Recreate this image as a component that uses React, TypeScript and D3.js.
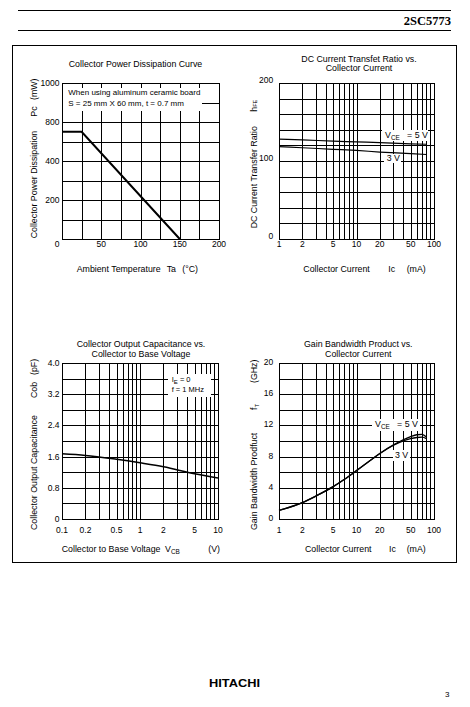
import React from 'react';
import * as d3 from 'd3';

// ---------------- data ----------------
// Collector Power Dissipation Curve
const pcTa = [0, 25, 150];
const pcPower = [700, 700, 0];
const pcXTicks = [0, 50, 100, 150, 200];
const pcXGrid = [25, 50, 75, 100, 125, 150, 175];
const pcYTicks = [0, 200, 400, 800, 1000]; // as printed on the axis
const pcYGrid = [100, 200, 300, 400, 600, 800, 900];

// DC Current Transfer Ratio vs. Collector Current
const hfeIc = [1, 2, 5, 10, 20, 50, 80];
const hfe5V = [128, 127, 125.5, 124.5, 123.5, 122, 121.5];
const hfe3V = [118.5, 117, 115, 113.5, 111.5, 109.5, 108.3];
const hfeYTicks = [0, 100, 200];
const hfeYGrid = [20, 40, 60, 80, 100, 120, 140, 160, 180];
const icTicks = [1, 2, 5, 10, 20, 50, 100];

// Collector Output Capacitance vs. Collector to Base Voltage
const cobVcb = [0.1, 0.2, 0.5, 1, 2, 5, 10];
const cobPf = [1.67, 1.63, 1.53, 1.44, 1.34, 1.16, 1.05];
const vcbTicks = [0.1, 0.2, 0.5, 1, 2, 5, 10];
const cobYTicks = [0, 0.8, 1.6, 2.4, 3.2, 4.0];
const cobYGrid = [0.4, 0.8, 1.2, 1.6, 2.0, 2.4, 2.8, 3.2, 3.6];

// Gain Bandwidth Product vs. Collector Current
const ftIc = [1, 2, 3, 5, 7, 10, 15, 20, 30, 40, 50, 60, 70, 80];
const ft5V = [1.1, 2.1, 2.95, 4.15, 5.1, 6.2, 7.5, 8.4, 9.5, 10.15, 10.55, 10.8, 10.85, 10.5];
const ft3V = [1.1, 2.1, 2.95, 4.15, 5.1, 6.2, 7.5, 8.4, 9.45, 10.0, 10.3, 10.45, 10.5, 10.3];
const ftYTicks = [0, 4, 8, 12, 16, 20];
const ftYGrid = [2, 4, 6, 8, 10, 12, 14, 16, 18];

// ---------------- helpers ----------------
const FONT = "'Liberation Sans', Arial, Helvetica, sans-serif";
const crisp = (v: number) => Math.round(v) + 0.5;
const zip = (a: number[], b: number[]) => a.map((v, i) => [v, b[i]] as [number, number]);

function logGrid(lo: number, hi: number): number[] {
  const out: number[] = [];
  for (let d = lo; d < hi * 0.999; d *= 10)
    for (let m = 1; m <= 9; m++) out.push(+(d * m).toPrecision(3));
  out.push(hi);
  return out;
}

function GridFrame({ x, y, xGrid, yGrid, l, r, t, b }: any) {
  return (
    <g stroke="#000" strokeWidth={1} fill="none" shapeRendering="crispEdges">
      {xGrid.map((v: number, i: number) => (
        <line key={'x' + i} x1={crisp(x(v))} x2={crisp(x(v))} y1={t} y2={b} />
      ))}
      {yGrid.map((v: number, i: number) => (
        <line key={'y' + i} x1={l} x2={r} y1={crisp(y(v))} y2={crisp(y(v))} />
      ))}
    </g>
  );
}

function Frame({ l, r, t, b }: any) {
  return (
    <rect
      x={crisp(l)}
      y={crisp(t)}
      width={Math.round(r) - Math.round(l)}
      height={Math.round(b) - Math.round(t)}
      fill="none"
      stroke="#000"
      strokeWidth={1}
      shapeRendering="crispEdges"
    />
  );
}

// main text + subscript + optional trailing text
function SubParts({ main, sub, after, size = 6.4, shift = 2 }: any) {
  return (
    <>
      <tspan>{main}</tspan>
      <tspan fontSize={size} dy={shift}>{sub}</tspan>
      {after ? <tspan dy={-shift}>{after}</tspan> : null}
    </>
  );
}

function VText({ x, y, children, size = 8.8 }: any) {
  return (
    <text transform={`translate(${x},${y}) rotate(-90)`} fontSize={size} fontFamily={FONT} fill="#000">
      {children}
    </text>
  );
}

function T({ x, y, children, size = 8.8, anchor = 'start', ...rest }: any) {
  return (
    <text x={x} y={y} fontSize={size} fontFamily={FONT} textAnchor={anchor} fill="#000" style={{ whiteSpace: 'pre' }} {...rest}>
      {children}
    </text>
  );
}

const fmt = (v: number) => String(v);
const fmt1 = (v: number) => (v === 0 ? '0' : v.toFixed(1));

export default function App() {
  // ---- chart 1 ----
  const c1 = { l: 62, r: 219, t: 83, b: 239 };
  const x1 = d3.scaleLinear().domain([0, 200]).range([c1.l, c1.r]);
  const y1 = d3
    .scaleLinear()
    .domain(pcYTicks)
    .range(pcYTicks.map((_, i) => c1.b - (i * (c1.b - c1.t)) / (pcYTicks.length - 1)));
  const line1 = d3.line<[number, number]>().x((d) => x1(d[0])).y((d) => y1(d[1]));

  // ---- chart 2 ----
  const c2 = { l: 279, r: 434, t: 83, b: 239 };
  const x2 = d3.scaleLog().domain([1, 100]).range([c2.l, c2.r]);
  const y2 = d3.scaleLinear().domain([0, 200]).range([c2.b, c2.t]);
  const line2 = d3.line<[number, number]>().x((d) => x2(d[0])).y((d) => y2(d[1])).curve(d3.curveMonotoneX);

  // ---- chart 3 ----
  const c3 = { l: 62, r: 218, t: 363, b: 519 };
  const x3 = d3.scaleLog().domain([0.1, 10]).range([c3.l, c3.r]);
  const y3 = d3.scaleLinear().domain([0, 4]).range([c3.b, c3.t]);
  const line3 = d3.line<[number, number]>().x((d) => x3(d[0])).y((d) => y3(d[1])).curve(d3.curveMonotoneX);

  // ---- chart 4 ----
  const c4 = { l: 279, r: 434, t: 363, b: 519 };
  const x4 = d3.scaleLog().domain([1, 100]).range([c4.l, c4.r]);
  const y4 = d3.scaleLinear().domain([0, 20]).range([c4.b, c4.t]);
  const line4 = d3.line<[number, number]>().x((d) => x4(d[0])).y((d) => y4(d[1])).curve(d3.curveMonotoneX);

  const TICK = 8.5;

  return (
    <svg
      width={470}
      height={707}
      style={{ position: 'absolute', left: 0, top: 0, background: '#fff' }}
      fontFamily={FONT}
    >
      <rect x={0} y={0} width={470} height={707} fill="#fff" />
      {/* header */}
      <g stroke="#000" strokeWidth={1} shapeRendering="crispEdges">
        <line x1={18} x2={451} y1={10.5} y2={10.5} />
        <line x1={18} x2={451} y1={30.5} y2={30.5} />
      </g>
      <text
        x={451}
        y={25}
        textAnchor="end"
        fontFamily="'Liberation Serif', 'Times New Roman', serif"
        fontWeight="bold"
        fontSize={12.5}
      >
        2SC5773
      </text>
      {/* page frame */}
      <rect x={12.5} y={45.5} width={444} height={517} fill="none" stroke="#000" strokeWidth={1} shapeRendering="crispEdges" />

      {/* ================= chart 1 ================= */}
      <T x={135.5} y={66.7} anchor="middle">Collector Power Dissipation Curve</T>
      <GridFrame x={x1} y={y1} xGrid={pcXGrid} yGrid={pcYGrid} {...c1} />
      <rect x={c1.l} y={88} width={140} height={23} fill="#fff" />
      <T x={68.3} y={95.3} size={8}>When using aluminum ceramic board</T>
      <T x={68.3} y={106.2} size={8}>S = 25 mm X 60 mm, t = 0.7 mm</T>
      <Frame {...c1} />
      <path d={line1(zip(pcTa, pcPower)) || ''} fill="none" stroke="#000" strokeWidth={2} />
      {pcYTicks.map((v, i) => (
        <T key={i} x={59.5} y={v === 0 ? 246.7 : y1(v)} dy={v === 0 ? 0 : '0.35em'} anchor="end" size={TICK}>
          {fmt(v)}
        </T>
      ))}
      {pcXTicks
        .filter((v) => v !== 0)
        .map((v, i) => (
          <T key={i} x={x1(v)} y={246.7} anchor="middle" size={TICK}>
            {fmt(v)}
          </T>
        ))}
      <T x={76.7} y={271.5}>Ambient Temperature</T>
      <T x={166.7} y={271.5}>Ta</T>
      <T x={182.3} y={271.5}>(°C)</T>
      <VText x={36.5} y={238.3}>Collector Power Dissipation</VText>
      <VText x={36.5} y={116.7}>Pc</VText>
      <VText x={36.5} y={100}>(mW)</VText>

      {/* ================= chart 2 ================= */}
      <T x={359} y={61.7} anchor="middle">DC Current Transfet Ratio vs.</T>
      <T x={359} y={70.7} anchor="middle">Collector Current</T>
      <GridFrame x={x2} y={y2} xGrid={logGrid(1, 100)} yGrid={hfeYGrid} {...c2} />
      <rect x={382} y={130} width={46} height={11} fill="#fff" />
      <rect x={384} y={154} width={17} height={9} fill="#fff" />
      <T x={385} y={137.7}>
        <SubParts main="V" sub="CE" after={'   = 5 V'} />
      </T>
      <T x={386.7} y={161.3}>3 V</T>
      <Frame {...c2} />
      <path d={line2(zip(hfeIc, hfe5V)) || ''} fill="none" stroke="#000" strokeWidth={1.2} />
      <path d={line2(zip(hfeIc, hfe3V)) || ''} fill="none" stroke="#000" strokeWidth={1.2} />
      {hfeYTicks.map((v, i) => (
        <T key={i} x={273.3} y={y2(v) - 2.5} dy="0.35em" anchor="end" size={TICK}>
          {fmt(v)}
        </T>
      ))}
      {icTicks.map((v, i) => (
        <T key={i} x={x2(v)} y={247.3} anchor="middle" size={TICK}>
          {fmt(v)}
        </T>
      ))}
      <T x={303.3} y={271.5}>Collector Current</T>
      <T x={388.3} y={271.5}>Ic</T>
      <T x={406.7} y={271.5}>(mA)</T>
      <VText x={256.5} y={228.3}>DC Current Transfer Ratio</VText>
      <VText x={256.5} y={111.7}>
        <SubParts main="h" sub="FE" size={5.5} shift={0} />
      </VText>

      {/* ================= chart 3 ================= */}
      <T x={141} y={347.3} anchor="middle">Collector Output Capacitance vs.</T>
      <T x={141} y={356.7} anchor="middle">Collector to Base Voltage</T>
      <GridFrame x={x3} y={y3} xGrid={logGrid(0.1, 10)} yGrid={cobYGrid} {...c3} />
      <rect x={168} y={374} width={43} height={23} fill="#fff" />
      <T x={171.7} y={382.3} size={7.5}>
        <SubParts main="I" sub="E" after=" = 0" size={6} />
      </T>
      <T x={171.7} y={392.3} size={7.5}>f = 1 MHz</T>
      <Frame {...c3} />
      <path d={line3(zip(cobVcb, cobPf)) || ''} fill="none" stroke="#000" strokeWidth={1.5} />
      {cobYTicks.map((v, i) => (
        <T key={i} x={59.5} y={y3(v)} dy="0.35em" anchor="end" size={TICK}>
          {fmt1(v)}
        </T>
      ))}
      {vcbTicks.map((v, i) => (
        <T key={i} x={x3(v)} y={533} anchor="middle" size={TICK}>
          {fmt(v)}
        </T>
      ))}
      <T x={61.7} y={551.5}>Collector to Base Voltage</T>
      <T x={165} y={551.5}>
        <SubParts main="V" sub="CB" />
      </T>
      <T x={208.3} y={551.5}>(V)</T>
      <VText x={37} y={530}>Collector Output Capacitance</VText>
      <VText x={37} y={398}>Cob</VText>
      <VText x={37} y={375}>(pF)</VText>

      {/* ================= chart 4 ================= */}
      <T x={358.3} y={347.3} anchor="middle">Gain Bandwidth Product vs.</T>
      <T x={358.3} y={356.7} anchor="middle">Collector Current</T>
      <GridFrame x={x4} y={y4} xGrid={logGrid(1, 100)} yGrid={ftYGrid} {...c4} />
      <rect x={372} y={419} width={48} height={12} fill="#fff" />
      <rect x={393} y={450} width={17} height={11} fill="#fff" />
      <T x={375} y={427.3}>
        <SubParts main="V" sub="CE" after={'   = 5 V'} />
      </T>
      <T x={395} y={458.3}>3 V</T>
      <Frame {...c4} />
      <path d={line4(zip(ftIc, ft5V)) || ''} fill="none" stroke="#000" strokeWidth={1.3} />
      <path d={line4(zip(ftIc, ft3V)) || ''} fill="none" stroke="#000" strokeWidth={1.3} />
      {ftYTicks.map((v, i) => (
        <T key={i} x={273.3} y={y4(v) - 1} dy="0.35em" anchor="end" size={TICK}>
          {fmt(v)}
        </T>
      ))}
      {icTicks.map((v, i) => (
        <T key={i} x={x4(v)} y={532.7} anchor="middle" size={TICK}>
          {fmt(v)}
        </T>
      ))}
      <T x={305} y={551.5}>Collector Current</T>
      <T x={389} y={551.5}>Ic</T>
      <T x={406.7} y={551.5}>(mA)</T>
      <VText x={256.5} y={530}>Gain Bandwidth Prodfuct</VText>
      <VText x={256.5} y={410}>
        <SubParts main="f" sub="T" size={6} />
      </VText>
      <VText x={256.5} y={383}>(GHz)</VText>

      {/* footer */}
      <text
        x={209}
        y={686.7}
        fontFamily={FONT}
        fontWeight="bold"
        fontSize={10.5}
        textLength={51}
        lengthAdjust="spacingAndGlyphs"
      >
        HITACHI
      </text>
      <T x={445} y={697.3} size={8}>3</T>
    </svg>
  );
}
